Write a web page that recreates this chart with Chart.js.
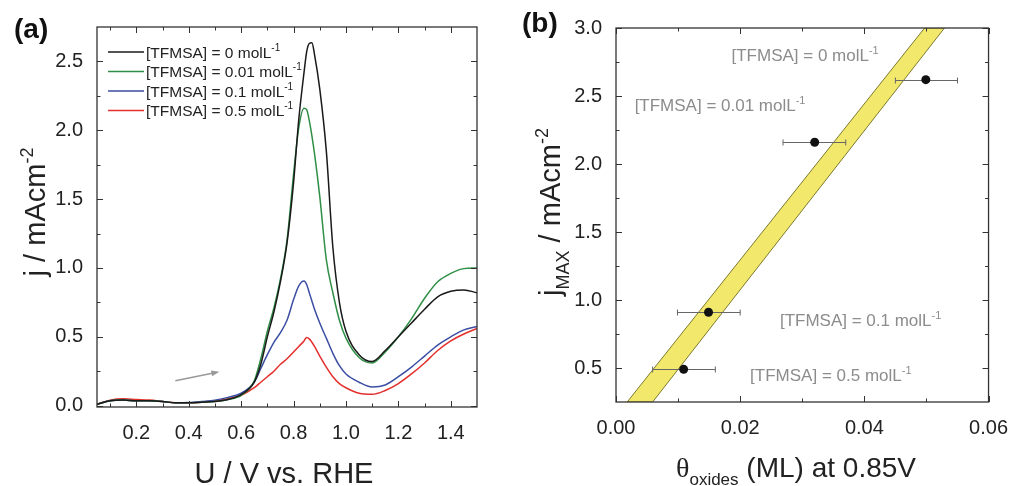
<!DOCTYPE html>
<html>
<head>
<meta charset="utf-8">
<script src="https://cdn.jsdelivr.net/npm/chart.js@4.4.0/dist/chart.umd.min.js"></script>
<style>
  html, body { margin: 0; padding: 0; background: #fff; }
  #wrap { position: relative; width: 1014px; height: 486px; overflow: hidden; }
  #chartA { position: absolute; left: 0; top: 0; }
  #chartB { position: absolute; left: 500px; top: 0; }
</style>
</head>
<body>
<div id="wrap">
  <canvas id="chartA" width="500" height="486"></canvas>
  <canvas id="chartB" width="514" height="486"></canvas>
</div>
<script>
/* two panels: (a) voltammograms, (b) jMAX vs oxide coverage */

// ---- panel (a) data ----
const potential = [0.05,0.1,0.15,0.2,0.25,0.3,0.35,0.4,0.45,0.5,
  0.55,0.6,0.65,0.675,0.7,0.725,0.75,0.775,0.8,0.82,
  0.84,0.85,0.86,0.87,0.88,0.9,0.925,0.95,0.975,1.0,
  1.05,1.1,1.15,1.2,1.25,1.3,1.35,1.4,1.45,1.5];
const jConc0 = [0.01,0.035,0.04,0.035,0.035,0.03,0.02,0.02,0.025,0.03,
  0.045,0.08,0.17,0.3,0.5,0.68,0.9,1.18,1.62,2.08,
  2.42,2.57,2.63,2.635,2.55,2.3,1.85,1.15,0.75,0.54,
  0.37,0.32,0.4,0.5,0.6,0.7,0.79,0.83,0.84,0.82];
const jConc001 = [0.01,0.035,0.04,0.035,0.035,0.03,0.02,0.02,0.025,0.03,
  0.045,0.075,0.18,0.34,0.54,0.71,0.92,1.2,1.68,2.02,
  2.16,2.15,2.07,1.96,1.83,1.52,1.06,0.82,0.62,0.49,
  0.35,0.31,0.39,0.5,0.63,0.78,0.9,0.96,0.995,1.0];
const jConc01 = [0.01,0.035,0.04,0.035,0.035,0.03,0.02,0.022,0.03,0.04,
  0.06,0.09,0.17,0.27,0.37,0.46,0.53,0.62,0.77,0.87,
  0.905,0.88,0.82,0.76,0.7,0.6,0.49,0.38,0.29,0.23,
  0.17,0.135,0.15,0.21,0.28,0.36,0.44,0.5,0.55,0.575];
const jConc05 = [0.01,0.04,0.05,0.045,0.04,0.03,0.02,0.02,0.025,0.035,
  0.05,0.075,0.13,0.17,0.21,0.25,0.3,0.34,0.39,0.43,
  0.47,0.495,0.485,0.46,0.43,0.36,0.28,0.21,0.16,0.13,
  0.09,0.082,0.11,0.16,0.23,0.31,0.4,0.47,0.52,0.56];
const concLabels = ['0', '0.01', '0.1', '0.5'];
const uTicks = [0.2, 0.4, 0.6, 0.8, 1.0, 1.2, 1.4];
const jTicks = [0, 0.5, 1.0, 1.5, 2.0, 2.5];

// ---- panel (b) data ----
const thetaOx = [0.0499, 0.032, 0.0149, 0.0109];
const jMax = [2.62, 2.16, 0.91, 0.49];
const thetaErrLo = [0.045, 0.0269, 0.0099, 0.0059];
const thetaErrHi = [0.055, 0.037, 0.020, 0.016];
const bandY = [0.25, 3.0];
const bandLeftX = [0.0018, 0.0497];
const bandRightX = [0.0059, 0.0529];
const thetaTicks = [0, 0.02, 0.04, 0.06];
const jMaxTicks = [0.5, 1.0, 1.5, 2.0, 2.5, 3.0];

const FONT = "'Liberation Sans', Arial, Helvetica, sans-serif";
const SERIF = "'Liberation Serif', 'DejaVu Serif', serif";
const colorsA = ['#1a1a1a', '#2f8f46', '#3b4ea3', '#e3302c'];

// text with sup/sub parts
function partFont(p, size) {
  const s = p.k ? Math.round(size * 0.62) : size;
  return (p.bold ? 'bold ' : '') + s + 'px ' + (p.fam || FONT);
}
function richWidth(ctx, parts, size) {
  let w = 0;
  for (const p of parts) { ctx.font = partFont(p, size); w += ctx.measureText(p.t).width; }
  return w;
}
function drawRich(ctx, parts, x, y, size, align, color) {
  const w = richWidth(ctx, parts, size);
  let cx = align === 'center' ? x - w / 2 : (align === 'right' ? x - w : x);
  ctx.fillStyle = color;
  ctx.textBaseline = 'alphabetic';
  ctx.textAlign = 'left';
  for (const p of parts) {
    ctx.font = partFont(p, size);
    const dy = p.k === 'sup' ? -size * 0.42 : (p.k === 'sub' ? size * 0.3 : 0);
    ctx.fillText(p.t, cx, y + dy);
    cx += ctx.measureText(p.t).width;
  }
}
function concText(c) {
  return [{t: '[TFMSA] = ' + c + ' molL'}, {t: '-1', k: 'sup'}];
}

// frame with inward ticks on all 4 sides
function tickFrame(xMinorStep, yMinorStep) {
  return {
    id: 'tickFrame',
    afterDraw(chart) {
      const {ctx, chartArea: a, scales} = chart;
      const sx = scales.x, sy = scales.y;
      ctx.save();
      ctx.strokeStyle = '#333';
      ctx.lineWidth = 1;
      const isMajor = (scale, v) => scale.ticks.some(t => Math.abs(t.value - v) < 1e-9);
      const vMark = (v, len) => {
        const px = Math.round(sx.getPixelForValue(v)) + 0.5;
        ctx.beginPath();
        ctx.moveTo(px, a.bottom); ctx.lineTo(px, a.bottom - len);
        ctx.moveTo(px, a.top); ctx.lineTo(px, a.top + len);
        ctx.stroke();
      };
      const hMark = (v, len) => {
        const py = Math.round(sy.getPixelForValue(v)) + 0.5;
        ctx.beginPath();
        ctx.moveTo(a.left, py); ctx.lineTo(a.left + len, py);
        ctx.moveTo(a.right, py); ctx.lineTo(a.right - len, py);
        ctx.stroke();
      };
      sx.ticks.forEach(t => vMark(t.value, 6));
      sy.ticks.forEach(t => hMark(t.value, 6));
      for (let k = Math.ceil(sx.min / xMinorStep - 1e-9); k * xMinorStep < sx.max - 1e-9; k++) {
        const v = k * xMinorStep;
        if (v > sx.min + 1e-9 && !isMajor(sx, v)) vMark(v, 3.5);
      }
      for (let k = Math.ceil(sy.min / yMinorStep - 1e-9); k * yMinorStep < sy.max - 1e-9; k++) {
        const v = k * yMinorStep;
        if (v > sy.min + 1e-9 && !isMajor(sy, v)) hMark(v, 3.5);
      }
      ctx.lineWidth = 1.3;
      ctx.strokeRect(a.left, a.top, a.right - a.left, a.bottom - a.top);
      ctx.restore();
    }
  };
}

function tickOpts(decimals) {
  return {
    font: {family: FONT, size: 20},
    color: '#222',
    padding: 6,
    maxRotation: 0,
    autoSkip: false,
    callback: v => Number(v).toFixed(decimals)
  };
}

// ---- panel (a) ----
const seriesA = [jConc0, jConc001, jConc01, jConc05];

const decorA = {
  id: 'decorA',
  afterDatasetsDraw(chart) {
    const {ctx, scales: {x, y}} = chart;
    // gray scan direction arrow
    const x0 = x.getPixelForValue(0.349), y0 = y.getPixelForValue(0.181);
    const x1 = x.getPixelForValue(0.517), y1 = y.getPixelForValue(0.246);
    const ang = Math.atan2(y1 - y0, x1 - x0);
    ctx.save();
    ctx.strokeStyle = '#999'; ctx.fillStyle = '#999'; ctx.lineWidth = 1.5;
    ctx.beginPath(); ctx.moveTo(x0, y0); ctx.lineTo(x1 - 6 * Math.cos(ang), y1 - 6 * Math.sin(ang)); ctx.stroke();
    ctx.beginPath();
    ctx.moveTo(x1, y1);
    ctx.lineTo(x1 - 8 * Math.cos(ang) + 3 * Math.sin(ang), y1 - 8 * Math.sin(ang) - 3 * Math.cos(ang));
    ctx.lineTo(x1 - 8 * Math.cos(ang) - 3 * Math.sin(ang), y1 - 8 * Math.sin(ang) + 3 * Math.cos(ang));
    ctx.closePath(); ctx.fill();
    ctx.restore();
  },
  afterDraw(chart) {
    const ctx = chart.ctx;
    ctx.save();
    // legend
    const rows = [52, 71.5, 91, 110.5];
    concLabels.forEach((c, i) => {
      ctx.strokeStyle = colorsA[i]; ctx.lineWidth = 1.5;
      ctx.beginPath(); ctx.moveTo(108, rows[i]); ctx.lineTo(144, rows[i]); ctx.stroke();
      drawRich(ctx, concText(c), 146, rows[i] + 5.5, 15.5, 'left', '#222');
    });
    // panel label
    drawRich(ctx, [{t: '(a)', bold: true}], 14, 38, 28, 'left', '#111');
    // x title
    drawRich(ctx, [{t: 'U / V vs. RHE'}], 284, 483, 29, 'center', '#222');
    // y title
    ctx.translate(45, 212);
    ctx.rotate(-Math.PI / 2);
    drawRich(ctx, [{t: 'j / mAcm'}, {t: '-2', k: 'sup'}], 0, 0, 29, 'center', '#222');
    ctx.restore();
  }
};

new Chart(document.getElementById('chartA'), {
  type: 'line',
  data: {
    datasets: seriesA.map((s, i) => ({
      label: concLabels[i],
      data: potential.map((u, k) => ({x: u, y: s[k]})),
      borderColor: colorsA[i],
      borderWidth: 1.5,
      pointRadius: 0,
      fill: false,
      cubicInterpolationMode: 'monotone'
    }))
  },
  options: {
    responsive: false,
    animation: false,
    events: [],
    layout: {padding: {left: 0, top: 27, right: 23, bottom: 0}},
    plugins: {legend: {display: false}, tooltip: {enabled: false}},
    scales: {
      x: {
        type: 'linear', min: 0.05, max: 1.5,
        afterBuildTicks: s => { s.ticks = uTicks.map(v => ({value: v})); },
        afterFit: s => { s.height = 79; },
        grid: {display: false}, border: {display: false},
        ticks: tickOpts(1)
      },
      y: {
        type: 'linear', min: -0.01, max: 2.75,
        afterBuildTicks: s => { s.ticks = jTicks.map(v => ({value: v})); },
        afterFit: s => { s.width = 97; },
        grid: {display: false}, border: {display: false},
        ticks: tickOpts(1)
      }
    }
  },
  plugins: [tickFrame(0.1, 0.25), decorA]
});

// ---- panel (b) ----
const bandPoly = [
  {x: bandLeftX[0], y: bandY[0]}, {x: bandLeftX[1], y: bandY[1]},
  {x: bandRightX[1], y: bandY[1]}, {x: bandRightX[0], y: bandY[0]},
  {x: bandLeftX[0], y: bandY[0]}
];

const decorB = {
  id: 'decorB',
  afterDatasetDraw(chart, args) {
    if (args.index !== 1) return; // after band, before points
    const {ctx, scales: {x, y}} = chart;
    ctx.save();
    ctx.strokeStyle = '#666'; ctx.lineWidth = 1;
    thetaOx.forEach((t, i) => {
      const py = Math.round(y.getPixelForValue(jMax[i])) + 0.5;
      const xa = x.getPixelForValue(thetaErrLo[i]), xb = x.getPixelForValue(thetaErrHi[i]);
      ctx.beginPath();
      ctx.moveTo(xa, py); ctx.lineTo(xb, py);
      ctx.moveTo(xa, py - 3); ctx.lineTo(xa, py + 3);
      ctx.moveTo(xb, py - 3); ctx.lineTo(xb, py + 3);
      ctx.stroke();
    });
    ctx.restore();
  },
  afterDatasetsDraw(chart) {
    const {ctx, scales: {x, y}} = chart;
    const notes = [
      {c: concLabels[0], x: 0.0186, y: 2.757},
      {c: concLabels[1], x: 0.003, y: 2.39},
      {c: concLabels[2], x: 0.0264, y: 0.809},
      {c: concLabels[3], x: 0.0216, y: 0.404}
    ];
    ctx.save();
    notes.forEach(n => drawRich(ctx, concText(n.c), x.getPixelForValue(n.x), y.getPixelForValue(n.y), 17, 'left', '#8c8c8c'));
    ctx.restore();
  },
  afterDraw(chart) {
    const ctx = chart.ctx;
    ctx.save();
    drawRich(ctx, [{t: '(b)', bold: true}], 22, 32, 28, 'left', '#111');
    drawRich(ctx, [{t: '\u03b8', fam: SERIF}, {t: 'oxides', k: 'sub'}, {t: ' (ML) at 0.85V'}], 296, 477, 28, 'center', '#222');
    ctx.translate(60, 212);
    ctx.rotate(-Math.PI / 2);
    drawRich(ctx, [{t: 'j'}, {t: 'MAX', k: 'sub'}, {t: ' / mAcm'}, {t: '-2', k: 'sup'}], 0, 0, 29, 'center', '#222');
    ctx.restore();
  }
};

new Chart(document.getElementById('chartB'), {
  type: 'line',
  data: {
    datasets: [
      {
        label: 'jMAX',
        data: thetaOx.map((t, i) => ({x: t, y: jMax[i]})),
        showLine: false,
        pointRadius: 4.5,
        pointBackgroundColor: '#111',
        pointBorderColor: '#111',
        pointBorderWidth: 0
      },
      {
        label: 'band',
        data: bandPoly,
        borderColor: '#7d7a2e',
        borderWidth: 1,
        backgroundColor: '#f1e86c',
        fill: 'shape',
        pointRadius: 0,
        tension: 0
      }
    ]
  },
  options: {
    responsive: false,
    animation: false,
    events: [],
    layout: {padding: {left: 0, top: 28, right: 23, bottom: 0}},
    plugins: {legend: {display: false}, tooltip: {enabled: false}},
    scales: {
      x: {
        type: 'linear', min: 0, max: 0.06,
        afterBuildTicks: s => { s.ticks = thetaTicks.map(v => ({value: v})); },
        afterFit: s => { s.height = 84; },
        grid: {display: false}, border: {display: false},
        ticks: tickOpts(2)
      },
      y: {
        type: 'linear', min: 0.25, max: 3.0,
        afterBuildTicks: s => { s.ticks = jMaxTicks.map(v => ({value: v})); },
        afterFit: s => { s.width = 116; },
        grid: {display: false}, border: {display: false},
        ticks: tickOpts(1)
      }
    }
  },
  plugins: [tickFrame(0.01, 0.25), decorB]
});
</script>
</body>
</html>
